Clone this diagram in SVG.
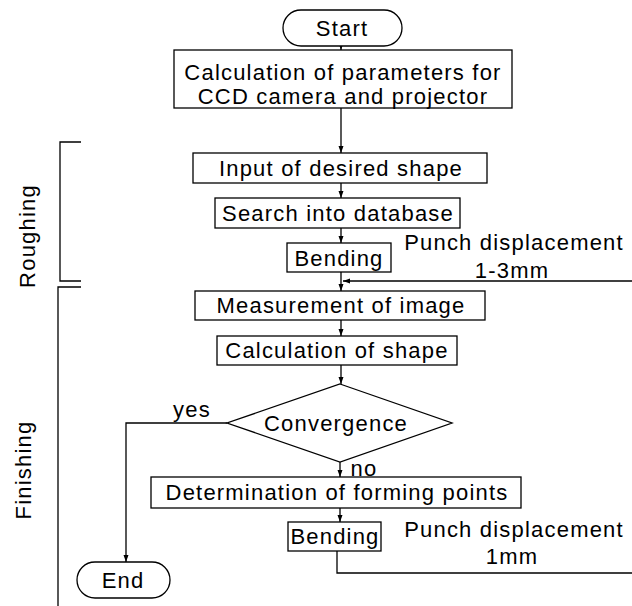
<svg xmlns="http://www.w3.org/2000/svg" width="632" height="606" viewBox="0 0 632 606">
<style>
.n{fill:#fff;stroke:#000;stroke-width:1.3}
.t{font-family:"Liberation Sans",Arial,sans-serif;font-size:22px;letter-spacing:1.2px;fill:#000;text-anchor:middle;dominant-baseline:central}
.c{fill:none;stroke:#000;stroke-width:1.3}
</style>
<defs>
<marker id="a" markerWidth="8" markerHeight="8" refX="7" refY="4" orient="auto" markerUnits="userSpaceOnUse">
<path d="M0,1.5 L7,4 L0,6.5 Z" fill="#000"/>
</marker>
</defs>
<rect width="632" height="606" fill="#fff"/>
<g id="connectors">
<path class="c" d="M341,46 V50" marker-end="url(#a)"/>
<path class="c" d="M341,108 V153" marker-end="url(#a)"/>
<path class="c" d="M341,183 V198" marker-end="url(#a)"/>
<path class="c" d="M341,228 V243" marker-end="url(#a)"/>
<path class="c" d="M341,272 V291" marker-end="url(#a)"/>
<path class="c" d="M632,281 H343" marker-end="url(#a)"/>
<path class="c" d="M341,320 V336" marker-end="url(#a)"/>
<path class="c" d="M341,365 V384" marker-end="url(#a)"/>
<path class="c" d="M340,462 V477" marker-end="url(#a)"/>
<path class="c" d="M340,508 V522" marker-end="url(#a)"/>
<path class="c" d="M337,551 V573 H632"/>
<path class="c" d="M227,423 H126 V562" marker-end="url(#a)"/>
</g>
<g id="brackets">
<path class="c" d="M81,142 H60 V281 H81"/>
<path class="c" d="M81,287 H58 V606"/>
<text class="t" transform="translate(27,236) rotate(-90)">Roughing</text>
<text class="t" transform="translate(23,470) rotate(-90)">Finishing</text>
</g>
<g id="start"><rect class="n" x="283" y="10" width="119" height="36" rx="18"/><text class="t" x="342" y="28">Start</text></g>
<g id="calc-params"><rect class="n" x="174" y="50" width="338" height="58"/><text class="t" x="343" y="72">Calculation of parameters for</text><text class="t" x="343" y="96">CCD camera and projector</text></g>
<g id="input"><rect class="n" x="193" y="153" width="294" height="30"/><text class="t" x="341" y="168">Input of desired shape</text></g>
<g id="search"><rect class="n" x="215" y="198" width="245" height="30"/><text class="t" x="338" y="213">Search into database</text></g>
<g id="bending1"><rect class="n" x="287" y="243" width="104" height="29"/><text class="t" x="339" y="258">Bending</text></g>
<text class="t" x="514" y="242">Punch displacement</text>
<text class="t" x="512" y="270">1-3mm</text>
<g id="measurement"><rect class="n" x="195" y="291" width="290" height="29"/><text class="t" x="341" y="305">Measurement of image</text></g>
<g id="calc-shape"><rect class="n" x="217" y="336" width="240" height="29"/><text class="t" x="337" y="350">Calculation of shape</text></g>
<g id="convergence"><path class="n" d="M340,384 L452,423 L340,462 L227,423 Z"/><text class="t" x="336" y="423">Convergence</text></g>
<text class="t" x="192" y="409">yes</text>
<text class="t" x="364" y="468">no</text>
<g id="determination"><rect class="n" x="151" y="477" width="370" height="31"/><text class="t" x="337" y="492">Determination of forming points</text></g>
<g id="bending2"><rect class="n" x="288" y="522" width="93" height="29"/><text class="t" x="335" y="536">Bending</text></g>
<text class="t" x="514" y="529">Punch displacement</text>
<text class="t" x="512" y="556">1mm</text>
<g id="end"><rect class="n" x="77" y="562" width="93" height="36" rx="18"/><text class="t" x="123" y="580">End</text></g>
</svg>
